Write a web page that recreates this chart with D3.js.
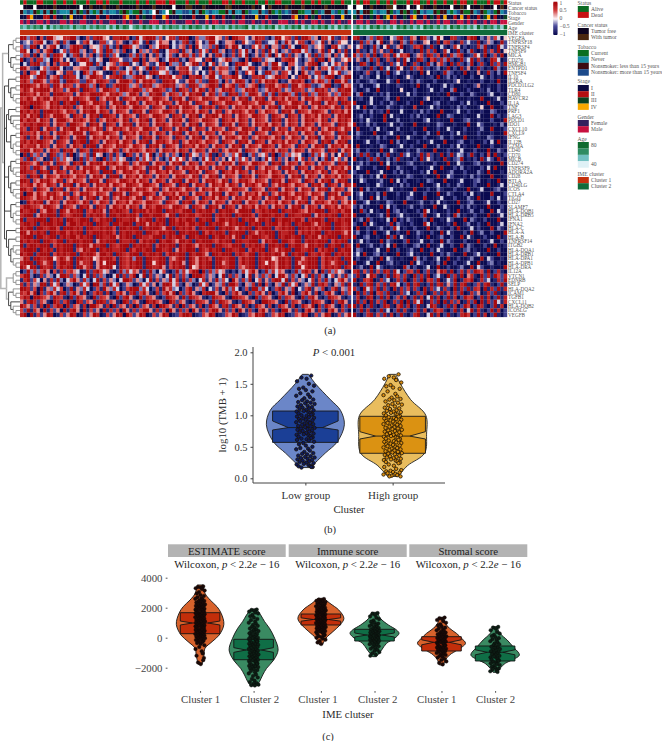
<!DOCTYPE html>
<html><head><meta charset="utf-8">
<script src="https://cdn.jsdelivr.net/npm/d3@7/dist/d3.min.js"></script>
<style>html,body{margin:0;padding:0;background:#fff}svg{display:block;font-family:"Liberation Serif",serif}</style>
</head><body><svg id="c" width="662" height="741"></svg>
<script>
/* Heatmap cells and sample tracks are eye estimates at a coarser grid than the source
   (about 146 columns rather than one per sample): each row follows the red/blue balance seen in the reference. */
const genes=["VEGFA","TNFRSF18","TNFRSF4","TNFSF9","MICA","CD276","HMGB1","ENTPD1","TNFSF4","IL10","IL2RA","PDCD1LG2","TLR4","CD80","HAVCR2","IL1A","TNF","PRF1","LAG3","PDCD1","IDO1","CXCL10","CXCL9","IFNG","IL12B","GZMA","CD40","CD70","MICB","CD274","TNFRSF9","ADORA2A","CD28","BTLA","CD40LG","ICOS","CTLA4","TIGIT","CD27","SLAMF7","HLA-DQB1","HLA-DRB5","IFNA1","IFNA2","HLA-C","HLA-A","HLA-B","TNFRSF14","ITGB2","HLA-DQA1","HLA-DRB1","HLA-DPA1","HLA-DPB1","HLA-DRA","IL12A","VTCN1","EDNRB","SELP","HLA-DQA2","ICAM1","TGFB1","CXCL11","HLA-DQB2","ICOSLG","VEGFB"];
const heatLeft=[
"9938807199645889930172899651889970294899937158829990173389956280997741698820399578291997360884921770",
"1352789402691830052794018835276103974190258660413892075139940266701853298124470396158820734916027551",
"7239905168940237998106547293180998462107359980426718095337290186994021758390662917400983265710894316",
"8950371689014728993602847199362801407362891047781936028471993602817493062819470362989473026918407291",
"3871906392997403891627038192740018392706183047206983927406189302718490261839074928163047192836072491",
"9027188340996150279983146009875223990816670249981307755189024698331070998264401789952036819907412658",
"0418993260717894025599183046727991530862149907338156992704816350298974101683995207742168990351486270",
"9962105738994021667893310859972046185390927741068894235009168772390549816203997148053829061774923860",
"1807749932056188240973965100828749316029985473018896250417938662093185704299361874050962388104759236",
"9985399816792998840369987258899133799846029989577108899369942877995102888934699870528996147389902699",
"8973998627993199872298699872169997296989721998952169937219983072699830729698970216989702969837099692",
"9998869782996987269983709812799983672989367998936729983679981967928936790289967982996798213699021967",
"7986989996987269971998726998739987998376998723919872969817936989723698972369897263988726398972639899",
"9987969871999887169879999769897369971639899269873969899169827319892739986293918997391892739986273998",
"8798697996987896998769917698961987698976998761989619876998769987169891698916987969871698967987969871",
"9989998769891989919976998716989169971698796987169896198761987699876998769987619876998716989169871998",
"7990998769897998176989769817698976998761987619896998761989719871698796987169891698996981769897698179",
"9897981999897698716989969871698761989619876998716987969871698176989769817698761989619876998761987969",
"8969891986999761987169891998716987619876998761987169891698996987169876998761987619871698796987169899",
"9798969871699976989769817698976981769891698716989619876998761987969871698761989169871698976981769897",
"7989899871698719987619896198716989169871698976987169891698761989619871698796987169871698716987619896",
"8719891698716989969897698176989769876998761987169891698716987619876998716989169871698976981769897698",
"9887969871698976999619876998761987969871698716989169871698716987619896198761987969871698716987619891",
"7918961989619871699916987969871698761989619876198716989169871698976981769897698176987169891698716987",
"8979899876198761989919871698796987169891698976981769897698761987619896198716987969871698761989169891",
"9788969871698716987199916987698976987619896198761987969871698716989169876998716987619871698916987969",
"8996987169871989619871998976981769897698716987969871698716981769896198761987969871698716987619891698",
"0918372619823719026381946028173098261749038162730918462739108263749103826471902837465102938471605928",
"7291836019283746019283710928374610293847162039485716203948172605938471620394817260394817260391847260",
"9987691896198761989169899698976981769891698716989169871698716989619876998761989169871698716987619891",
"8972997619891698716989769917698976987619896198716987969871698716989169817698761989619871698716987969",
"9988719891698716987969871999176989769817698796987619896198761987969871698796987169871698976981769891",
"7819891698769897698716989619991698796987169871698976981769891698761989619876998716989169871698796987",
"9981769897698176987619896198769987969871698716989169871698976981769897698761989619876198716989169891",
"8789697698716989169871698796987699876998761987619891698716987969871698976981769897698761989619871698",
"9978198761989169871698796987169899698976981769897698716987969876998761987619891698716987169891698716",
"8099697698976981769897698761989619876998716987969871698716989169871698796981769897698976987619896198",
"9987698796987169871698916981769897699176987619896198761987969871698796987169891698976981769817698761",
"0197989169871698976981769871698796987699876198761989169871698716989169871698796987169891698976981769",
"7998876998761987619896198716987969871698799876998761987619896198716987969871698716989169871698796987",
"9889917699819869899187989619899871989979899198987999189899719899869999178989991988998769899919889799",
"8999169899919878999189899719989989971998999869919989978999189899198999718999899819988999169898991989",
"9188999919898199889991879899199889969899189919979899819899179989891989969989198999899718999819989899",
"8998918999899179989899199881998999189969898919989979989919899869899919899189997989198999869899199889",
"9899199889971999898199889899719989991989998699198989719899919899869899198999178989919989897999199889",
"9969898919989979899198999899719899899199879989919989991979899819899919869899919889917989899198999869",
"8999199889918989979899199889969899199887999189899719989991989989699198999879919899899198996989991989",
"9898991998799198998999169899919889917989919899869989198999879899199889991698991998799189989991798991",
"9189989991798999198996989919879991989989179989919899869899199887999189899719989919899869989919899198",
"8999919898198999176989919899889919799899199889169899919879899199889917989919869899199889917989919899",
"9899189991798989919899869989199879991989989179989919899861998999189879919899899691989919889799198989",
"6981998899579869199889569899719879399199889917689919869897199889917989919899569989199689991798989199",
"8999198689179989196889169599919879899199589917989619869899199689917989919859869989196889991798689919",
"9859919889179899199689169899519879899199889617989919569899199889917689919899869989199589991798989198",
"0293837960718278640192897461029384761929304710293847990928374610203847960293847610293897160928374610",
"7993018263049982730491827300491827904918263049172830999726304918273049162837049962830471928304716293",
"1892740618293047962830491726304998263049172639481927304816293740962839047162899491726304817293047962",
"8172639918470263018470993819470263018472603998472063018470263819972063819072063918470263918972063819",
"9982709163847029163840271963840279993840271968340279163804271693840271993840279163804279163802791638",
"8796908279618927961802798180279618927961082796908279610899961082796108279618027961902796180279610827",
"7980998762987109297610928761092896109287610298761929876102987610998761092876109287610928961029876102",
"6189827610982791098276199827610982761098976109827610298761929876102987610998761092876102987610928961",
"9862718092798092761809976180927618092761809976180927618029761892976180297618029761802976908297610829",
"7291860917260918960917260918270961827996182709618270961827996182709618207961820996182079618207961820",
"8909172698017269801726980172698097269801726980127998012769801276980127698912769801276980172698017269"
];
const heatRight=[
"8910372981053892176098314950088210799031627405",
"0192730490161083192016501907820182411902630192",
"1471029305912690128790291041028502011839101942",
"0812039261290140120191729018401920391019271905",
"9382719028719487902671982709183790128519027190",
"1620392801720819401982079283920192491820198401",
"0198201720182519018201930682091820390281092719",
"1320192091401950192791201301902091601920109301",
"0102710301902410201090501019320109010601920309",
"0031200400201001520010120901302010020041020100",
"0200132000410900020310002000102500100020010900",
"1030002400100210010900300014020001002600100200",
"2001300900100050002000140020039000200010300200",
"0390001020300010402000100100900020031000240010",
"0120040001300900010002500010032000100090001400",
"9000140020031000200090002300100020401000900020",
"1409002000310020008000140200010302000150090002",
"0002030120900040001030200090001400200010032000",
"0130020009040100020301000900320001000400090201",
"0020410009000300010002400100090002300100020009",
"9010302000140020009000100320001000900420001030",
"0900020401000300010009000200410002000130090002",
"0310009000240010002000300900020401000200010009",
"0200010302000900410002000130020009000100320001",
"0001400200090301000200140009000230010002040900",
"0900010032000140020009000300020401000900020001",
"1300200090041000200310009000200140002000900310",
"0292910302910192410291720190291430291020709102",
"9010292910302910102091520109102390102091420910",
"0130200090401000230010002000900410002300100090",
"0410002000900310002000140090002030100020409000",
"2000900140002030100020409000130002000310900010",
"0130020409000100320001000900420001030200090001",
"0042000130090402000100320009000140002300100900",
"9000100420001030200090001400200310002000900140",
"0090301000240010009000200310002000900140002300",
"0240010309000200140002000900310002040100090002",
"0130090402000100320009000140002000310900020401",
"9002400100320009000130020401000900230001400200",
"2030100090402000130020009004100020301000900020",
"0092040100902301000209401000200900130020090410",
"9000200130900240100029001400209301002000900140",
"0130920010409020310002090010420009031002000900",
"2009041000290310020009401000209001300200900140",
"0900200130029401002000900310020900140200090310",
"1300209001400200900310020090410002090130020009",
"9002300100929041000200900130020090410002000901",
"0140200090310002900140020090310002000900140020",
"0900130020409001002300900140020090310002009001",
"0320001400900200130090020410009002301000900200",
"1409002301000900240100090020310009002401000900",
"0200130090420010009302001400900200130090420010",
"9001400900230100090420010309002001400900230100",
"0130090420010009302001400900200130090420010009",
"8917291729819402871902810698190281729871902810",
"2910598102919728109281902410928190681092819728",
"9018790182401829018290782901429018790182401829",
"1092891729189402918910291891629189102718910291",
"8209482918209182718209182418209182918709182918",
"0918290782910182401829018291718290182601829101",
"2801980291802718029180491802918029780291802918",
"1928091729018290918490182909182701829091829418",
"9180291029810791802910498102918029702981029180",
"0291810291402918102918029781029180491810291802",
"9102891729180291028910491802910289702918029102"
];
const statusLeft="0100011000100100100010011010001000010010011101100010010001000110100100010010011000100100101000100100";
const statusRight="0101100100101000101100101001001011001000101101";
const cancerLeft="2000200000100000002001000100010000010000100000200011000100000011000000100201000010000100000010000002";
const cancerRight="0220010000112000200210001000020010200010002010";
const tobaccoLeft="2131201212031112120321012131130201002131423140211331212013110021211203112132010313220011203122130121";
const tobaccoRight="1212201311203120230213112022101320021320130213";
const stageLeft="0013000110100203000100010010000130010200100310002000100030100100200100030010002000130010201000100300";
const stageRight="2010020102301002013001020103001030100102301002";
const genderLeft="1010011010001101001100101001100101001001110010100011010010110100101100100101001110010100110100101001";
const genderRight="0110100110011010010110100101100110101001011011";
const ageLeft="5364758293647563845736485627394861574958362748563749586372945638475692736485926374859263748593627485";
const ageRight="4736285947362859473629584736295847362948573629";
const imeLeftCode="0", imeRightCode="1";
const trackNames=["Status","Cancer status","Tobacco","Stage","Gender","Age","IME cluster"];
const statusLevels=["Alive","Dead"], statusColors=["#0b6a22","#c70f12"];
const cancerLevels=["Tumor free","With tumor"], cancerColors=["#0d0420","#4a2710","#fff"];
const tobaccoLevels=["Current","Never","Nonsmoker: less than 15 years","Nonsmoker: more than 15 years"], tobaccoColors=["#0b6f22","#1a8ea6","#3d0a12","#1c4b8c","#fff"];
const stageLevels=["I","II","III","IV"], stageColors=["#0b0b42","#b30f12","#0a4220","#f7a800","#fff"];
const genderLevels=["Female","Male"], genderColors=["#35205e","#c8103f"];
const ageLevels=["80","","","40"], ageColors=["#0e6b30","#2f8c62","#72c1c2","#dff1f6"];
const imeLevels=["Cluster 1","Cluster 2"], imeColors=["#c4300e","#0f6b3a"];
const barTicks=[1,0.5,0,-0.5,-1];
const dendroTop=[[[0,1],[2,3]],[[4,5],[6,[7,8]]]];
const dendroMiddle=[[[9,10],[[11,12],[13,[14,15]]]],[[[16,17],[18,[19,[20,21]]]],[[22,23],[[24,25],[26,27]]]],
  [[[28,29],[30,[31,32]]],[[33,34],[35,[36,37]]]],[[38,39],[[40,41],[42,43]]],
  [[44,45],[[46,47],[[48,[49,50]],[51,[52,53]]]]]];
const dendroBottom=[[[54,55],[56,57]],[[58,[59,60]],[61,[62,[63,64]]]]];
const dendro=[[dendroTop,dendroMiddle],dendroBottom];
const tmbGroups=["Low group","High group"];
const tmbLevels=[[1.65,1.5,1.25,1.08,.85,.58,.4,.25,.17],[1.65,1.5,1.25,1.0,.7,.4,.2,.03]];
const tmbDensity=[[.08,.26,.64,.9,1,.82,.51,.26,.13],[.08,.2,.46,.85,.87,.82,.38,.13]];
const tmbQ1=[.57,.397], tmbNotchLow=[.767,.624], tmbMedian=[.805,.67], tmbNotchHigh=[.91,.74], tmbQ3=[1.068,.984];
const tmbLow=[1.63,1.6,1.58,1.54,1.5,1.47,1.44,1.42,1.4,1.38,1.35,1.33,1.31,1.29,1.27,1.25,1.24,1.22,1.21,1.2,1.19,1.18,1.16,1.15,1.14,1.13,1.12,1.11,1.1,1.09,1.08,1.07,1.06,1.05,1.04,1.03,1.02,1.01,1,.99,.98,.97,.96,.95,.94,.93,.92,.91,.9,.89,.88,.87,.86,.85,.84,.83,.82,.81,.8,.79,.78,.77,.76,.75,.74,.73,.72,.71,.7,.69,.68,.67,.66,.65,.64,.63,.62,.61,.6,.58,.56,.54,.52,.5,.48,.47,.46,.44,.42,.4,.39,.38,.36,.35,.34,.33,.32,.31,.3,.29,.28,.27,.26,.25,.24,.23,.22,.21,.2,.19,.18,.18,.17];
const tmbHigh=[1.65,1.62,1.6,1.58,1.56,1.52,1.48,1.46,1.44,1.42,1.38,1.34,1.32,1.3,1.28,1.26,1.25,1.24,1.22,1.2,1.18,1.17,1.16,1.14,1.12,1.11,1.1,1.08,1.07,1.06,1.05,1.04,1.03,1.02,1.01,1,.99,.98,.97,.96,.95,.94,.93,.92,.91,.9,.89,.88,.87,.86,.85,.84,.83,.82,.81,.8,.79,.78,.77,.76,.75,.74,.73,.72,.71,.7,.69,.68,.67,.66,.65,.64,.63,.62,.61,.6,.59,.58,.57,.56,.55,.54,.53,.52,.51,.5,.49,.48,.47,.46,.45,.44,.43,.42,.41,.4,.39,.38,.37,.36,.35,.34,.33,.32,.31,.3,.29,.28,.27,.26,.25,.24,.22,.2,.18,.15,.13,.12,.11,.1,.09,.08,.07,.06,.05,.04,.03,.03];
const scorePanels=["ESTIMATE score","Immune score","Stromal score"];
const clusterNames=["Cluster 1","Cluster 2"];
const scoreLevels=[[3513,2957,2513,2069,1624,891,180,-264,-709,-1153,-1775],[1913,1513,1069,624,-42,-820,-1487,-2042,-2487,-2931,-3200],
 [2624,2291,1847,1291,847,402,-42,-442],[1691,1291,847,513,291,-42,-375,-820,-1264],
 [1358,958,624,291,-42,-375,-820,-1153,-1487,-1820],[736,291,-153,-598,-1153,-1487,-1709,-2042,-2309]];
const scoreDensity=[[.12,.2,.41,.69,.86,.97,.78,.49,.2,.16,.08],[.12,.29,.45,.65,.86,1,.82,.53,.37,.24,.12],
 [.12,.37,.73,.94,.78,.49,.2,.08],[.12,.24,.57,.9,1,.82,.49,.29,.08],
 [.08,.16,.33,.61,.82,.98,.65,.33,.16,.08],[.08,.2,.49,.73,.99,.69,.41,.2,.08]];
const scoreQ1=[267,-1467,847,-220,-887,-1553], scoreNotchLow=[847,-976,1102,47,-473,-1140], scoreMedian=[980,-820,1213,180,-307,-973], scoreNotchHigh=[1110,-664,1324,313,-140,-807], scoreQ3=[1667,-107,1580,560,67,-553];
const estimate1=[3420,3380,3350,3300,3250,3150,3050,2950,2850,2780,2700,2640,2590,2540,2500,2450,2410,2380,2340,2300,2260,2220,2190,2150,2120,2090,2050,2020,1990,1960,1930,1900,1870,1840,1810,1780,1750,1720,1690,1660,1630,1600,1570,1540,1510,1480,1450,1420,1390,1360,1330,1300,1270,1240,1210,1180,1150,1120,1090,1060,1030,1000,970,940,910,880,850,820,790,760,730,700,670,640,610,580,550,520,490,460,430,400,370,340,310,280,250,220,190,160,130,100,70,40,10,-30,-70,-110,-150,-200,-250,-300,-360,-420,-500,-620,-760,-900,-1050,-1200,-1350,-1500,-1650,-1760];
const estimate2=[1880,1850,1800,1740,1680,1610,1520,1430,1340,1250,1170,1080,1000,930,860,790,730,670,610,550,490,440,390,340,290,240,190,140,90,40,0,-40,-80,-120,-160,-200,-240,-280,-320,-360,-400,-440,-480,-520,-560,-600,-640,-680,-720,-760,-800,-840,-880,-920,-960,-1000,-1040,-1080,-1120,-1160,-1200,-1240,-1280,-1320,-1360,-1400,-1440,-1480,-1520,-1560,-1600,-1640,-1680,-1720,-1760,-1800,-1840,-1880,-1920,-1960,-2000,-2050,-2100,-2160,-2220,-2300,-2380,-2460,-2550,-2650,-2750,-2850,-2950,-3020,-3080,-3130,-3170,-3190];
const immune1=[2580,2540,2500,2460,2420,2380,2340,2300,2260,2220,2180,2140,2100,2060,2030,2000,1970,1940,1910,1880,1850,1820,1790,1760,1730,1700,1670,1640,1610,1580,1550,1520,1490,1460,1430,1400,1370,1340,1310,1280,1250,1220,1190,1160,1130,1100,1070,1040,1010,980,950,920,890,860,830,800,770,740,710,680,650,620,590,560,530,500,470,440,410,370,330,290,250,200,150,100,50,0,-60,-130,-220,-320,-420];
const immune2=[1640,1600,1520,1420,1330,1240,1150,1070,1000,940,880,830,780,730,690,650,610,570,530,490,460,430,400,370,340,310,280,250,220,190,160,130,100,70,40,10,-20,-50,-80,-110,-140,-170,-200,-230,-260,-290,-320,-350,-390,-430,-470,-520,-570,-620,-680,-740,-810,-880,-960,-1040,-1120,-1200];
const stromal1=[1340,1300,1250,1180,1100,1000,900,820,740,670,610,550,490,440,390,340,300,260,220,180,140,100,60,20,-20,-60,-100,-140,-180,-220,-260,-300,-340,-380,-420,-460,-500,-540,-580,-620,-660,-700,-740,-780,-820,-860,-900,-940,-980,-1020,-1060,-1100,-1150,-1200,-1260,-1320,-1400,-1490,-1580,-1680,-1780];
const stromal2=[720,680,600,500,380,280,190,110,40,-30,-100,-170,-240,-310,-380,-440,-500,-560,-610,-660,-710,-760,-810,-860,-910,-960,-1010,-1060,-1110,-1160,-1210,-1260,-1310,-1360,-1410,-1460,-1510,-1560,-1610,-1660,-1710,-1760,-1820,-1880,-1940,-2000,-2060,-2120,-2180,-2240,-2280];
const scoreValues=[estimate1,estimate2,immune1,immune2,stromal1,stromal2];
const scoreTicks=[4000,2000,0,-2000];
const clusterLabelNudge=[0,5.5,-3.4,2.7,-5.3,0];
const jitterOrder=[.62,-.41,.13,-.88,.37,.91,-.22,-.67,.05,.74,-.53,.29,-.96,.48,-.11,.83,-.34,.18,-.75,.56,-.02,.97,-.46,.24,-.83,.69,-.28,.41,-.61,.09,.86,-.17,-.92,.33,.52,-.71,.77];

const svg=d3.select("#c");
const serif='"Liberation Serif",serif';
const heatColor=d3.scaleLinear().domain([0,2.5,4.5,7,9]).range(["#0b0b50","#4f4f9e","#fbf5f7","#d03a3a","#a80a0e"]);
const ageColor=d3.scaleLinear().domain([0,3,6,9]).range(ageColors.slice().reverse());
const leftX=d3.scaleLinear().domain([0,1]).range([20,351]);
const rightX=d3.scaleLinear().domain([0,1]).range([353,507]);
const rowY=d3.scaleBand().domain(d3.range(genes.length)).range([36,317]);
const gHeat=svg.append("g").style("filter","blur(0.45px)");
function paintRow(g,str,sx,y,h,color){
  const n=str.length;
  g.append("g").selectAll("rect").data(Array.from(str)).join("rect")
   .attr("x",(d,i)=>sx(i/n)).attr("width",(d,i)=>sx((i+1)/n)-sx(i/n)+0.2)
   .attr("y",y).attr("height",h).attr("fill",color);
}
genes.forEach((g,i)=>{
  paintRow(gHeat,heatLeft[i],leftX,rowY(i),rowY.bandwidth()+.1,d=>heatColor(+d));
  paintRow(gHeat,heatRight[i],rightX,rowY(i),rowY.bandwidth()+.1,d=>heatColor(+d));
});
const tracks=[[statusLeft,statusRight,d=>statusColors[+d],0.2],[cancerLeft,cancerRight,d=>cancerColors[+d],5],[tobaccoLeft,tobaccoRight,d=>tobaccoColors[+d],10],
 [stageLeft,stageRight,d=>stageColors[+d],15],[genderLeft,genderRight,d=>genderColors[+d],20],[ageLeft,ageRight,d=>ageColor(+d),25]];
tracks.forEach(t=>{paintRow(gHeat,t[0],leftX,t[3],4.4,t[2]);paintRow(gHeat,t[1],rightX,t[3],4.4,t[2]);});
paintRow(gHeat,imeLeftCode,leftX,30,5.2,d=>imeColors[+d]);
paintRow(gHeat,imeRightCode,rightX,30,5.2,d=>imeColors[+d]);
const small=(x,y,t,fs=5.45,col="#555")=>svg.append("text").attr("x",x).attr("y",y).attr("dy","0.34em").attr("font-size",fs).attr("fill",col).text(t);
trackNames.forEach((t,i)=>small(508,[3,7.8,12.8,18.6,23.4,28,33][i],t));
genes.forEach((g,i)=>small(508,rowY(i)+rowY.bandwidth()/2,g,5.2));
const root=d3.hierarchy(dendro,d=>Array.isArray(d)?d:null);
const dx=d3.scalePow().exponent(.75).domain([0,root.height]).range([20,0.8]);
root.eachAfter(n=>{n.py=n.children?d3.mean([n.children[0].py,n.children[n.children.length-1].py]):rowY(n.data)+rowY.bandwidth()/2;n.px=dx(n.height);});
const gD=svg.append("g").attr("fill","none");
root.descendants().filter(n=>n.children).forEach(n=>{
  const col=n.depth<=1?"#b5b5b5":n.height>=3?"#333":"#8a8a8a";
  n.children.forEach(c=>{gD.append("path").attr("d",d3.line()([[n.px,n.py],[n.px,c.py],[c.px,c.py]])).attr("stroke",col).attr("stroke-width",n.depth<=1?1.5:.9);});
});
const barY=d3.scaleLinear().domain([1,-1]).range([2.6,34]);
const gradData=d3.range(-1,1.001,.05);
svg.append("g").selectAll("rect").data(gradData).join("rect").attr("x",553.5).attr("width",3.8)
 .attr("y",d=>barY(d)-.9).attr("height",1.9).attr("fill",d=>heatColor((d+1)*4.5));
barTicks.forEach(v=>small(559.5,barY(v),v<0?"\u2212"+Math.abs(v):String(v),5.6));
const legends=[["Status",statusLevels,statusColors,3,6,5.9],["Cancer status",cancerLevels,cancerColors,25,28,6],["Tobacco",tobaccoLevels,tobaccoColors,47,50,6.4],
 ["Stage",stageLevels,stageColors,81,85,6.2],["Gender",genderLevels,genderColors,117,120,6.2],["Age",ageLevels,ageColors,139,142,6.4],["IME cluster",imeLevels,imeColors,174,177,6.2]];
legends.forEach(([title,levels,cols,ty,sy,h])=>{
  small(577.5,ty,title,5.6);
  levels.forEach((l,i)=>{
    svg.append("rect").attr("x",577.8).attr("y",sy+i*h).attr("width",11).attr("height",h+.1).attr("fill",cols[i]);
    if(l)small(591,sy+i*h+h/2,l,5.55);
  });
});
function violin(g,cx,levels,dens,widthScale,y,fill,stroke){
  const pts=levels.map((v,i)=>({v,d:dens[i]}));
  g.append("path").attr("d",d3.area().curve(d3.curveCatmullRom.alpha(.5)).y(d=>y(d.v)).x0(d=>cx-widthScale(d.d)).x1(d=>cx+widthScale(d.d))(pts))
   .attr("fill",fill).attr("stroke",stroke).attr("stroke-width",.9);
}
function notchBox(g,cx,hw,inset,q1,nl,m,nh,q3,y,fill,stroke){
  const pts=[[cx-hw,q3],[cx+hw,q3],[cx+hw,nh],[cx+hw-inset,m],[cx+hw,nl],[cx+hw,q1],[cx-hw,q1],[cx-hw,nl],[cx-hw+inset,m],[cx-hw,nh]];
  const line=d3.line().x(d=>d[0]).y(d=>y(d[1])).curve(d3.curveLinearClosed);
  g.append("path").attr("d",line(pts)).attr("fill",fill).attr("stroke",stroke).attr("stroke-width",.9);
  g.append("path").attr("d",d3.line().x(d=>d[0]).y(d=>y(d[1]))([[cx-hw+inset,m],[cx+hw-inset,m]])).attr("stroke",stroke).attr("stroke-width",.9);
}
function jitterDots(g,cx,vals,spread,y,r,fill,stroke,sw){
  g.append("g").selectAll("circle").data(vals).join("circle")
   .attr("cx",(d,i)=>cx+jitterOrder[i%jitterOrder.length]*spread).attr("cy",d=>y(d)).attr("r",r)
   .attr("fill",fill).attr("stroke",stroke).attr("stroke-width",sw);
}
const txt=(x,y,t,fs,opt={})=>{const e=svg.append("text").attr("x",x).attr("y",y).attr("dy","0.34em").attr("font-size",fs).attr("fill",opt.fill||"#2b2b2b").attr("text-anchor",opt.anchor||"middle");
  if(opt.rot!==undefined)e.attr("transform",`rotate(${opt.rot} ${x} ${y})`);
  if(opt.parts)opt.parts.forEach(p=>e.append("tspan").attr("font-style",p[1]?"italic":null).text(p[0]));else e.text(t);return e;};
txt(330,330,"(a)",10.5);
const by=d3.scaleLinear().domain([0,2]).range([478.3,352.3]);
const bx=d3.scalePoint().domain(tmbGroups).range([253,445]).padding(.6);
const bW=d3.scaleLinear().domain([0,1]).range([0,39]);
const gB=svg.append("g");
const bFill=[["#6b86c8","#1b3f96","#0c1a5e"],["#e9bd5e","#db9212","#d98d10"]];
tmbGroups.forEach((g,i)=>{
  const cx=bx(g);
  violin(gB,cx,tmbLevels[i],tmbDensity[i],bW,by,bFill[i][0],"#222");
  notchBox(gB,cx,32.8,15.7,tmbQ1[i],tmbNotchLow[i],tmbMedian[i],tmbNotchHigh[i],tmbQ3[i],by,bFill[i][1],"#1a1a1a");
  jitterDots(gB,cx,i?tmbHigh:tmbLow,9.5,by,1.7,bFill[i][2],"#1a1206",.8);
});
const ax=svg.append("g").attr("transform","translate(253,0)").call(d3.axisLeft(by).tickValues([0,.5,1,1.5,2]).tickFormat(d3.format(".1f")).tickSize(2.5));
ax.select(".domain").attr("d","M0,347V483").attr("stroke","#444").attr("stroke-width",1);
ax.selectAll("line").attr("stroke","#444");
ax.selectAll("text").attr("font-family",serif).attr("font-size",10.5).attr("fill","#333").attr("x",-5.5);
const axb=svg.append("g").attr("transform","translate(0,483)").call(d3.axisBottom(bx).tickSize(2.5));
axb.select(".domain").attr("d","M253,0H445").attr("stroke","#444").attr("stroke-width",1);
axb.selectAll("line").attr("stroke","#444");
axb.selectAll("text").attr("font-family",serif).attr("font-size",11).attr("fill","#333").attr("y",8);
txt(334,352.7,"",10.8,{parts:[["P",1],[" < 0.001",0]]});
txt(222,415,"log10 (TMB + 1)",10.8,{rot:-90});
txt(349,509,"Cluster",10.8);
txt(330,529,"(b)",10.5);
const cy=d3.scaleLinear().domain([-2000,4000]).range([667.7,577.7]);
const panelX=[[168,285.7],[288.7,406.7],[409.3,527.3]];
const cW=d3.scaleLinear().domain([0,1]).range([0,24.5]);
const cFill=[["#d8622c","#c22e0a"],["#3a8a62","#0f6e46"]];
const gC=svg.append("g");
scorePanels.forEach((name,p)=>{
  const [a,b]=panelX[p];
  gC.append("rect").attr("x",a).attr("y",544.3).attr("width",b-a).attr("height",12.7).attr("fill","#b3b3b3");
  txt((a+b)/2,551,name,10.8,{fill:"#222"});
  txt((a+b)/2,564.3,"",10.8,{parts:[["Wilcoxon, ",0],["p",1],[" < 2.2",0],["e",1],[" \u2212 16",0]],fill:"#222"});
  const cx=d3.scalePoint().domain(clusterNames).range([a,b]).padding(.6);
  const axc=gC.append("g").attr("transform","translate(0,691)").call(d3.axisBottom(cx).tickSize(1.8));
  axc.select(".domain").remove();
  axc.selectAll("line").attr("stroke","#555");
  axc.selectAll("text").attr("font-family",serif).attr("font-size",10.8).attr("fill","#444").attr("y",4.5).attr("dx",(d,i)=>clusterLabelNudge[p*2+i]);
  clusterNames.forEach((c,j)=>{
    const k=p*2+j, x=cx(c);
    violin(gC,x,scoreLevels[k],scoreDensity[k],cW,cy,cFill[j][0],"#141414");
    notchBox(gC,x,19.8,12,scoreQ1[k],scoreNotchLow[k],scoreMedian[k],scoreNotchHigh[k],scoreQ3[k],cy,cFill[j][1],"#141414");
    jitterDots(gC,x,scoreValues[k],5,cy,1.8,j?"#0d1d14":"#1c0806","#0b0b0b",.4);
  });
});
const ayc=svg.append("g").attr("transform","translate(167.5,0)").call(d3.axisLeft(cy).tickValues(scoreTicks).tickFormat(d=>d<0?"\u2212"+Math.abs(d):d).tickSize(1.8));
ayc.select(".domain").remove();
ayc.selectAll("line").attr("stroke","#555");
ayc.selectAll("text").attr("font-family",serif).attr("font-size",10.8).attr("fill","#444").attr("x",-5);
txt(348,714,"IME clutser",10.8);
txt(328,736,"(c)",10.5);
</script></body></html>
